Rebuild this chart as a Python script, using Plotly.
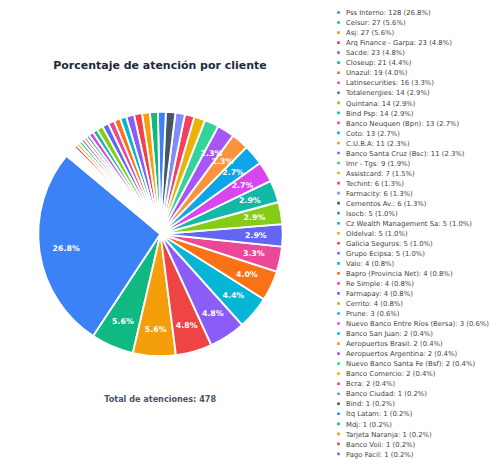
import math
import plotly.graph_objects as go

# ---------------- data ----------------
clients = [
    "Pss Interno", "Celsur", "Asj", "Arq Finance - Garpa", "Sacde", "Closeup",
    "Unazul", "Latinsecurities", "Totalenergies", "Quintana", "Bind Psp",
    "Banco Neuquen (Bpn)", "Coto", "C.U.B.A", "Banco Santa Cruz (Bsc)",
    "Imr - Tgs", "Assistcard", "Techint", "Farmacity", "Cementos Av.", "Isocb",
    "Cz Wealth Management Sa", "Oldelval", "Galicia Seguros", "Grupo Ecipsa",
    "Valo", "Bapro (Provincia Net)", "Re Simple", "Farmapay", "Cerrito", "Prune",
    "Nuevo Banco Entre Ríos (Bersa)", "Banco San Juan", "Aeropuertos Brasil",
    "Aeropuertos Argentina", "Nuevo Banco Santa Fe (Bsf)", "Banco Comercio",
    "Bcra", "Banco Ciudad", "Bind", "Itq Latam", "Mdj", "Tarjeta Naranja",
    "Banco Voii", "Pago Facil",
]
counts = [
    128, 27, 27, 23, 23, 21, 19, 16, 14, 14, 14, 13, 13, 11, 11, 9, 7, 6, 6, 6,
    5, 5, 5, 5, 5, 4, 4, 4, 4, 4, 3, 3, 2, 2, 2, 2, 2, 2, 1, 1, 1, 1, 1, 1, 1,
]
palette = [
    "#3B82F6", "#10B981", "#F59E0B", "#EF4444", "#8B5CF6", "#06B6D4", "#F97316",
    "#EC4899", "#6366F1", "#84CC16", "#14B8A6", "#D946EF", "#0EA5E9", "#FB923C",
    "#A855F7", "#34D399", "#EAB308", "#F43F5E", "#818CF8", "#475569",
]
title_text = "Porcentaje de atención por cliente"
label_threshold = 2.0  # percent labels shown only on slices >= this

# ---------------- derived ----------------
total = sum(counts)
pcts = [c / total * 100 for c in counts]
legend_labels = [f"{n}: {c} ({p:.1f}%)" for n, c, p in zip(clients, counts, pcts)]
colors = [palette[i % len(palette)] for i in range(len(clients))]

# ---------------- geometry (rendered at 1/SCALE, then zoomed) ----------------
SCALE = 0.375
W, H = 1333, 1253
CX, CY, R = 428, 624, 326          # pie centre / radius in px
ROT = 213.4                         # pie rotation (deg)
LABEL_R = 0.78                      # label radius as fraction of R
CORE = 2                            # width (in value units) of the label-carrying core
HOLE = 0.9

# Helper ring: every labelled slice is split into filler / narrow core / filler,
# so plotly centres the percentage text on the slice's mid-angle.
ov_labels, ov_values, ov_text = [], [], []
for name, v, p in zip(clients, counts, pcts):
    if p >= label_threshold:
        side = (v - CORE) / 2
        ov_labels += [name + " a", name + " b", name + " c"]
        ov_values += [side, CORE, side]
        ov_text += ["", f"{p:.1f}%", ""]
    else:
        ov_labels.append(name)
        ov_values.append(v)
        ov_text.append("")
s = math.sin(math.pi * CORE / total)
r_center = 1 - 1 / (1 + 1 / s)
OV_FRAC = LABEL_R / r_center
# counter-clockwise pies start at rotation + first slice; keep both rings aligned
OV_ROT = ROT + 360 * (counts[0] - ov_values[0]) / total


def domain(frac):
    r = R * frac
    return dict(x=[(CX - r) / W, (CX + r) / W],
                y=[1 - (CY + r) / H, 1 - (CY - r) / H])


FONT = "DejaVu Sans"
fig = go.Figure()
fig.add_trace(go.Pie(
    labels=legend_labels, values=counts, sort=False,
    direction="counterclockwise", rotation=ROT,
    marker=dict(colors=colors, line=dict(color="white", width=5)),
    textinfo="none", domain=domain(1.0), hoverinfo="label",
))
fig.add_trace(go.Pie(
    labels=ov_labels, values=ov_values, sort=False,
    direction="counterclockwise", rotation=OV_ROT, hole=HOLE,
    marker=dict(colors=["rgba(0,0,0,0)"] * len(ov_values), line=dict(width=0)),
    text=ov_text, textinfo="text", textposition="inside",
    insidetextorientation="horizontal",
    textfont=dict(family=FONT, size=21, color="white", weight="bold"),
    domain=domain(OV_FRAC), showlegend=False, hoverinfo="skip",
))

fig.update_layout(
    width=W, height=H,
    margin=dict(l=0, r=0, t=0, b=0, pad=0, autoexpand=False),
    paper_bgcolor="white", plot_bgcolor="white",
    uniformtext=dict(mode="show", minsize=21),
    title=dict(text=title_text, x=0.32, xanchor="center", xref="container",
               y=0.8607, yanchor="middle", yref="container",
               font=dict(family=FONT, size=29.3, color="#1e293b", weight="bold")),
    legend=dict(x=0.6622, xanchor="left", xref="paper",
                y=0.988, yanchor="top", yref="paper", maxheight=1245,
                font=dict(family=FONT, size=18.27, color="#444444"),
                bgcolor="rgba(0,0,0,0)", traceorder="normal"),
    annotations=[dict(text=f"Total de atenciones: {total}", x=0.32, y=0.1512,
                      xref="paper", yref="paper", xanchor="center", yanchor="middle",
                      showarrow=False,
                      font=dict(family=FONT, size=21.6, color="#475569", weight="bold"))],
)

post = (
    "var gd=document.getElementById('{plot_id}');"
    "document.documentElement.style.margin='0';document.body.style.margin='0';"
    "document.documentElement.style.overflow='hidden';document.body.style.overflow='hidden';"
    "gd.style.zoom='" + str(SCALE) + "';"
)
fig.write_html("out.html", post_script=post)
